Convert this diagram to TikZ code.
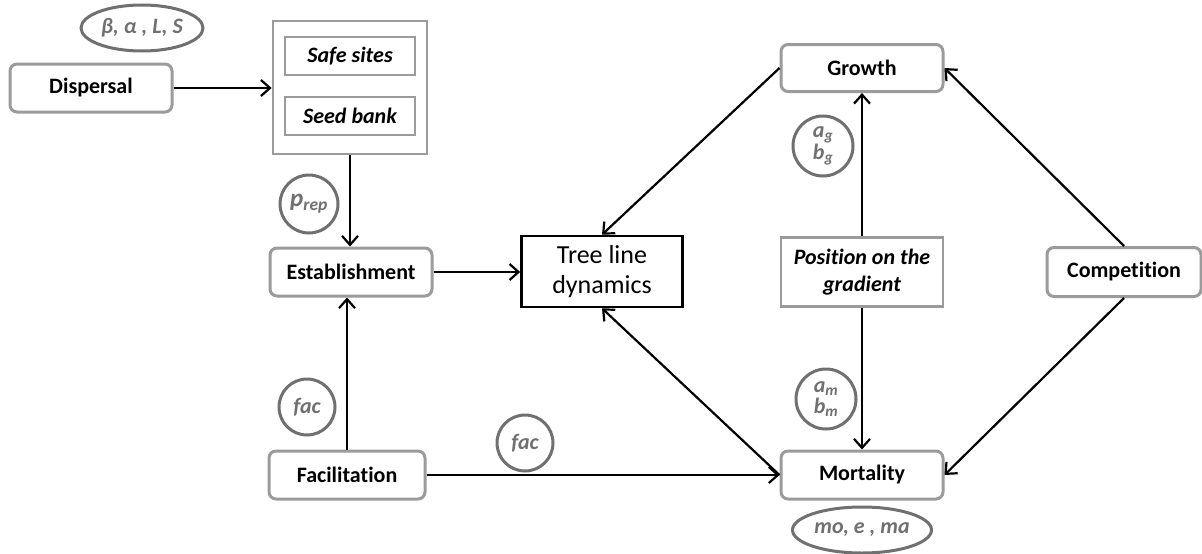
\documentclass[tikz,border=0pt]{standalone}
\usepackage{fontspec}
\setmainfont{Carlito}[Ligatures=NoCommon]
\usetikzlibrary{arrows.meta,shapes.geometric}
\definecolor{boxgray}{RGB}{155,155,155}
\definecolor{circgray}{RGB}{112,112,112}
\begin{document}
\begin{tikzpicture}[x=1pt,y=-1pt,
  rbox/.style={draw=boxgray, line width=3pt, rounded corners=7pt, fill=white,
    font=\fontsize{22}{26}\selectfont\bfseries, inner sep=0pt},
  sbox/.style={draw=boxgray, line width=2.8pt, fill=white, inner sep=0pt,
    font=\fontsize{22}{27}\selectfont\bfseries\itshape, align=center},
  param/.style={circle, draw=circgray, line width=3pt, text=circgray, inner sep=0pt,
    font=\fontsize{22}{21}\selectfont\bfseries\itshape, align=center},
  pell/.style={ellipse, draw=circgray, line width=3pt, text=circgray, inner sep=0pt,
    font=\fontsize{22}{26}\selectfont\bfseries\itshape},
  arr/.style={-{Straight Barb[length=9pt,width=16pt,line width=2.2pt]}, line width=2.2pt, black}
]
\path[use as bounding box, fill=white] (0,0) rectangle (1202,554);

% left column
\node[pell, minimum width=122pt, minimum height=46pt] (par1) at (142,28) {β, α , L, S};
\node[rbox, minimum width=162pt, minimum height=48pt] (disp) at (91,88) {Dispersal};
\node[draw=boxgray, line width=2.8pt, minimum width=154pt, minimum height=133pt, inner sep=0pt] (cont) at (350,87.5) {};
\node[sbox, minimum width=130pt, minimum height=38pt] (safe) at (350,56) {Safe sites};
\node[sbox, minimum width=130pt, minimum height=38pt] (seed) at (350,116) {Seed bank};
\node[param, minimum size=58pt, font=\fontsize{25}{25}\selectfont\bfseries\itshape] (prep) at (309,204) {p\textsubscript{rep}};
\node[rbox, minimum width=162pt, minimum height=48pt] (est) at (351,272) {Establishment};
\node[param, minimum size=56pt] (facl) at (307,407) {fac};
\node[rbox, minimum width=156pt, minimum height=48pt] (fac) at (347,475) {Facilitation};
\node[param, minimum size=56pt] (facm) at (525,443) {fac};

% centre
\node[draw=black, line width=2.6pt, fill=white, minimum width=161pt, minimum height=71pt,
  inner sep=0pt, align=center, font=\fontsize{26}{30}\selectfont] (tree) at (602,271.5) {Tree line\\dynamics};

% right
\node[rbox, minimum width=162pt, minimum height=47pt] (grow) at (862,68) {Growth};
\node[param, minimum size=60pt] (ag) at (823,146) {a\textsubscript{g}\\b\textsubscript{g}};
\node[sbox, minimum width=162pt, minimum height=69pt] (pos) at (862,272) {Position on the\\gradient};
\node[param, minimum size=60pt] (am) at (826,399) {a\textsubscript{m}\\b\textsubscript{m}};
\node[rbox, minimum width=162pt, minimum height=48pt] (mort) at (862,475) {Mortality};
\node[pell, minimum width=139pt, minimum height=46pt] (par2) at (862,530) {mo, e , ma};
\node[rbox, minimum width=154pt, minimum height=49pt] (comp) at (1124,272) {Competition};

% connectors
\draw[arr] (disp.east) -- (cont.west |- disp.east);
\draw[arr] (cont.south) -- (cont.south |- est.north);
\draw[arr] (est.east) -- (tree.west |- est.east);
\draw[arr] (fac.north) -- (fac.north |- est.south);
\draw[arr] (fac.east) -- (mort.west);
\draw[arr] (mort.west) -- (tree.south);
\draw[arr] (grow.west) -- (tree.north);
\draw[arr] (pos.north) -- (grow.south);
\draw[arr] (pos.south) -- (mort.north);
\draw[arr] (comp.north) -- (grow.east);
\draw[arr] (comp.south) -- (mort.east);
\end{tikzpicture}
\end{document}
